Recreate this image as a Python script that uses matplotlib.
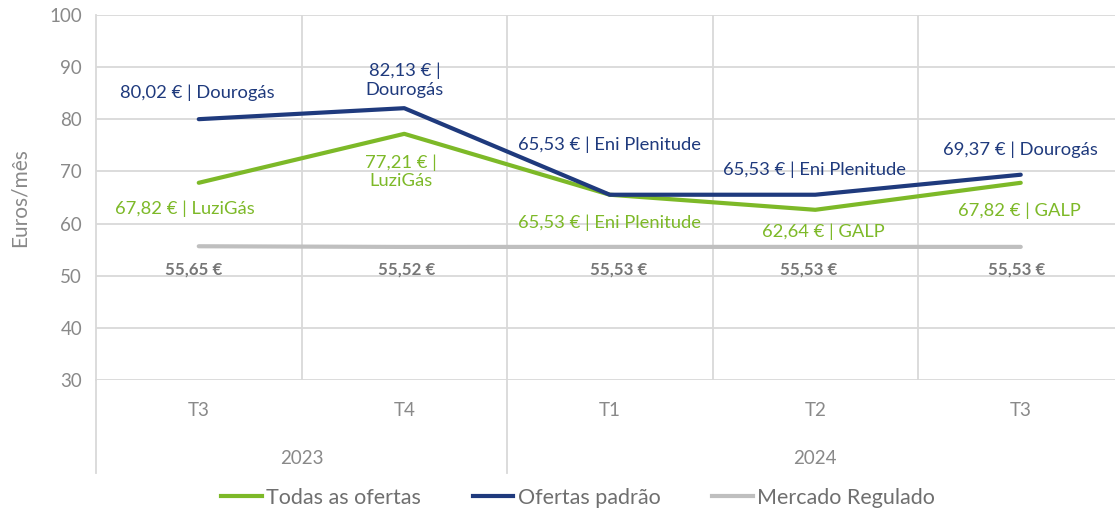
import matplotlib
matplotlib.use('Agg')
import matplotlib.pyplot as plt
from matplotlib.lines import Line2D

plt.rcParams['font.family'] = ['Lato', 'DejaVu Sans']

# data
quarters = ['T3', 'T4', 'T1', 'T2', 'T3']
years = ['2023', '2024']
year_groups = [(0, 1), (2, 4)]  # first and last category index of each year

todas = [67.82, 77.21, 65.53, 62.64, 67.82]
todas_lbl = ['67,82 € | LuziGás', '77,21 € |\nLuziGás', '65,53 € | Eni Plenitude',
             '62,64 € | GALP', '67,82 € | GALP']
padrao = [80.02, 82.13, 65.53, 65.53, 69.37]
padrao_lbl = ['80,02 € | Dourogás', '82,13 € |\nDourogás', '65,53 € | Eni Plenitude',
              '65,53 € | Eni Plenitude', '69,37 € | Dourogás']
regulado = [55.65, 55.52, 55.53, 55.53, 55.53]
regulado_lbl = ['55,65 €', '55,52 €', '55,53 €', '55,53 €', '55,53 €']

green = '#7DB928'
navy = '#1F3A7D'
gray = '#BFBFBF'
grid_c = '#D9D9D9'
txt_c = '#898989'

fig = plt.figure(figsize=(11.15, 5.16), dpi=100)
ax = fig.add_axes([96 / 1115, 136 / 516, 1027.5 / 1115, 365 / 516])

x = list(range(len(quarters)))
ax.plot(x, regulado, color=gray, lw=3, solid_capstyle='round', label='Mercado Regulado', zorder=3)
ax.plot(x, todas, color=green, lw=3, solid_capstyle='round', label='Todas as ofertas', zorder=4)
ax.plot(x, padrao, color=navy, lw=3, solid_capstyle='round', label='Ofertas padrão', zorder=5)

ax.set_xlim(-0.5, len(quarters) - 0.5)
ax.set_ylim(30, 100)
ax.set_yticks(range(30, 101, 10))
ax.set_xticks(x)
ax.set_xticklabels(quarters)
ax.set_xticks([i + 0.5 for i in x[:-1]], minor=True)
ax.grid(axis='y', color=grid_c, lw=1.3)
ax.grid(axis='x', which='minor', color=grid_c, lw=1.3)
ax.grid(axis='x', which='major', visible=False)
ax.set_axisbelow(True)
for s in ['top', 'right', 'bottom']:
    ax.spines[s].set_visible(False)
ax.spines['left'].set_color(grid_c)
ax.spines['left'].set_linewidth(1.3)
ax.tick_params(axis='both', which='both', length=0, colors=txt_c, labelsize=13.5)
ax.tick_params(axis='x', pad=16)
ax.tick_params(axis='y', pad=10)
ax.set_ylabel('Euros/mês', color=txt_c, fontsize=15, labelpad=14)

# data labels (offsets in pixels -> points)
k = 0.72
padrao_off = [(-1, 26), (0.5, 28), (0, 50), (-1, 25), (0, 25)]
todas_off = [(-14, -26), (-3, -38), (0, -28), (8, -22), (-1, -28)]
reg_off = [(-5, -23), (2, -23), (9, -23), (-7, -23), (-4, -23)]
for i in x:
    ax.annotate(padrao_lbl[i], (i, padrao[i]), xytext=(padrao_off[i][0] * k, padrao_off[i][1] * k),
                textcoords='offset points', ha='center', va='center', color=navy,
                fontsize=13.2, linespacing=1.2)
    ax.annotate(todas_lbl[i], (i, todas[i]), xytext=(todas_off[i][0] * k, todas_off[i][1] * k),
                textcoords='offset points', ha='center', va='center', color=green,
                fontsize=13.2, linespacing=1.2)
    ax.annotate(regulado_lbl[i], (i, regulado[i]), xytext=(reg_off[i][0] * k, reg_off[i][1] * k),
                textcoords='offset points', ha='center', va='center', color='#767676',
                fontsize=12.2, fontweight='bold')

# multilevel category axis: year labels and separators
trans = ax.get_xaxis_transform()
for (a, b), yr in zip(year_groups, years):
    ax.text((a + b) / 2, -0.215, yr, transform=trans, ha='center', va='center',
            color=txt_c, fontsize=13.5)
for sep in [-0.5, 1.5]:
    ax.add_line(Line2D([sep, sep], [0, -0.255], transform=trans, color=grid_c, lw=1.3, clip_on=False))

handles = [Line2D([], [], color=green, lw=3),
           Line2D([], [], color=navy, lw=3),
           Line2D([], [], color=gray, lw=3)]
fig.legend(handles, ['Todas as ofertas', 'Ofertas padrão', 'Mercado Regulado'],
           loc='center', bbox_to_anchor=(578 / 1115, 1 - 498 / 516), ncol=3, frameon=False,
           fontsize=15.5, labelcolor='#6f6f6f', handlelength=1.9, handletextpad=0.2,
           columnspacing=2.4)

fig.savefig('out.png', dpi=100)
